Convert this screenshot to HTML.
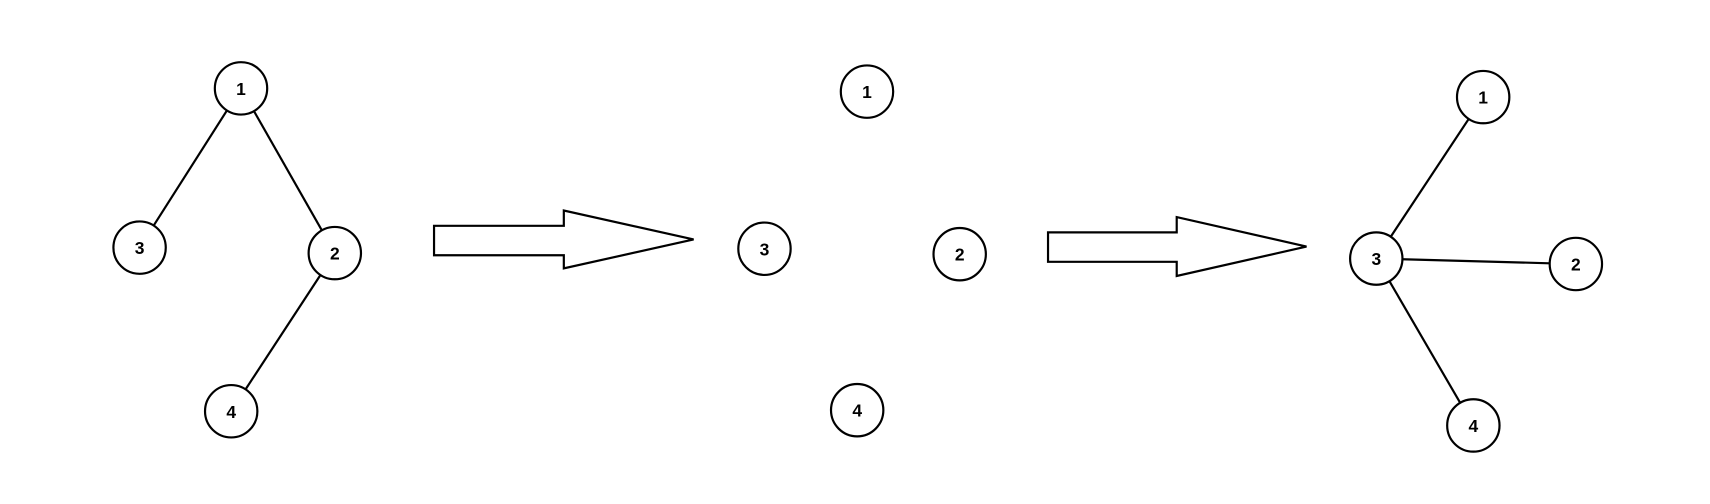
<!DOCTYPE html>
<html><head><meta charset="utf-8"><style>
html,body{margin:0;padding:0;background:#fff;width:1710px;height:504px;overflow:hidden}
svg{display:block}
text{font-family:"Liberation Sans",sans-serif;font-weight:bold;font-size:16px}
</style></head><body>
<svg width="1710" height="504" viewBox="0 0 1568 462" preserveAspectRatio="none">
<g id="root" stroke="#000" fill="none" stroke-width="2"></g>
</svg>
<script>
const nodeLabels=["1","2","3","4"];
const g1=[[221,81],[307,232],[128,227],[212,377]];
const g2=[[795,84],[880,233],[701,228],[786,376]];
const g3=[[1360,89],[1445,242],[1262,237],[1351,390]];
const e1=[[0,2],[0,1],[1,3]];
const e2=[];
const e3=[[2,0],[2,1],[2,3]];
const R=24;
const root=document.getElementById('root');
const NS='http://www.w3.org/2000/svg';
function drawGraph(pos,edges,name){
  const grp=document.createElementNS(NS,'g');
  
  
  edges.forEach(([a,b])=>{
    const [x1,y1]=pos[a],[x2,y2]=pos[b];
    const d=Math.hypot(x2-x1,y2-y1),ux=(x2-x1)/d,uy=(y2-y1)/d;
    const l=document.createElementNS(NS,'line');
    l.setAttribute('x1',x1+ux*R);l.setAttribute('y1',y1+uy*R);
    l.setAttribute('x2',x2-ux*R);l.setAttribute('y2',y2-uy*R);
    
    
    grp.appendChild(l);
  });
  pos.forEach(([x,y],i)=>{
    const c=document.createElementNS(NS,'circle');
    c.setAttribute('cx',x);c.setAttribute('cy',y);c.setAttribute('r',R);c.setAttribute('fill','#fff');
    
    
    grp.appendChild(c);
    const t=document.createElementNS(NS,'text');
    t.setAttribute('x',x);t.setAttribute('y',y+6);t.setAttribute('text-anchor','middle');
    t.setAttribute('fill','#000');t.setAttribute('stroke','none');
    t.textContent=nodeLabels[i];
    
    
    grp.appendChild(t);
  });
  root.appendChild(grp);
}
function arrow(x0,yTop,yBot,xh,hTop,hBot,tip,name){
  const p=document.createElementNS(NS,'polygon');
  const ym=(hTop+hBot)/2;
  p.setAttribute('points',`${x0},${yTop} ${xh},${yTop} ${xh},${hTop} ${tip},${ym} ${xh},${hBot} ${xh},${yBot} ${x0},${yBot}`);
  p.setAttribute('fill','#fff');
  
  
  root.appendChild(p);
}
drawGraph(g1,e1,'original-graph');
arrow(398,207,234,517,193,246,636,'arrow-1');
drawGraph(g2,e2,'disconnected-nodes');
arrow(961,213,240,1079,199,253,1198,'arrow-2');
drawGraph(g3,e3,'result-graph');
</script>
</body></html>
